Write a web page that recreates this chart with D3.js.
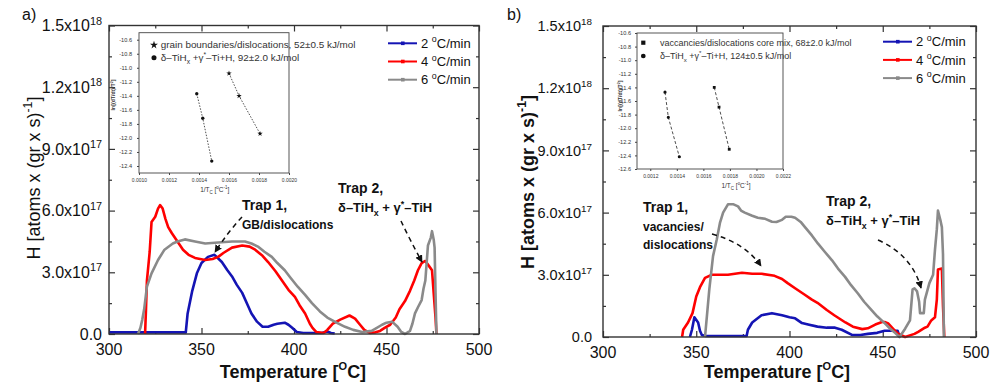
<!DOCTYPE html>
<html>
<head>
<meta charset="utf-8">
<script src="https://cdn.jsdelivr.net/npm/d3@7"></script>
<style>
body { margin: 0; background: #fff; }
svg { font-family: Arial, "Liberation Sans", sans-serif; }
</style>
</head>
<body>
<svg id="chart" width="995" height="389"></svg>
<script>
// ---------- data (temperature in degC, H in units of 1e17 atoms/(gr s)) ----------
var rateLabels = ["2", "4", "6"];
var rateColors = ["#1414b4", "#ff0000", "#8a8a8a"];

var xTickValues = [300, 350, 400, 450, 500];
var yTickValues = [0, 3e17, 6e17, 9e17, 1.2e18, 1.5e18];
var yTickMant = ["0.0", "3.0", "6.0", "9.0", "1.2", "1.5"];
var yTickExp = ["", "17", "17", "17", "18", "18"];

// panel a)
var blueA = [[300,0.08],[310,0.08],[320,0.08],[330,0.08],[341.5,0.08],[342.5,1.0],[345,2.1],[347.5,2.95],[350,3.45],
  [353.5,3.75],[357,3.85],[361,3.5],[364,3.1],[366.5,2.8],[369,2.4],[372,2.0],[375,1.4],[377,1.0],[380,0.6],[383,0.35],
  [386,0.35],[389,0.45],[391,0.5],[395,0.55],[397,0.45],[399,0.3],[401.5,0.1],[405,0.05],[410,0.05],[415,0.05],
  [418,0.12],[420,0.05],[422,0.02]];
var redA = [[319.5,0],[320,1.2],[320.5,2.6],[322,4.0],[323,5.45],[325,5.7],[326.5,6.1],[327.6,6.27],[329,6.1],[330.5,5.6],
  [332,5.2],[334,4.9],[337,4.5],[340,4.1],[343,3.85],[346.5,3.7],[352,3.6],[356,3.65],[359,3.75],[362,3.95],[366.5,4.2],
  [372,4.3],[376,4.25],[379,4.1],[383,3.8],[386,3.5],[390,3.05],[393.5,2.6],[397,2.15],[400.5,1.8],[403,1.4],[406,1.0],
  [408.6,0.5],[410,0.3],[412,0.1],[416,0.05],[418,0.2],[421,0.5],[425,0.7],[430,0.9],[433,0.75],[435.7,0.45],[438,0.2],
  [441,0.05],[444,0.08],[446.5,0.15],[449,0.3],[452,0.45],[455,0.8],[457,1.2],[460,1.6],[462.7,2.1],[465,2.6],[467,3.1],
  [469,3.45],[471,3.55],[473,3.3],[474.6,3.1],[475.5,2.0],[476.5,0.8],[477,0]];
var grayA = [[315.7,0],[317,0.3],[318,0.7],[319,1.2],[320.5,2.3],[323,2.95],[326.5,3.6],[330,4.1],[334.5,4.4],[337,4.5],
  [341,4.6],[346.5,4.5],[352,4.4],[359,4.45],[366.5,4.5],[373.5,4.5],[377,4.4],[380.5,4.25],[384,4.0],[388,3.75],
  [391,3.45],[395,3.1],[398,2.75],[402,2.3],[406,1.9],[409.7,1.5],[414,1.1],[418,0.8],[423,0.55],[427.6,0.35],[432,0.2],
  [436.8,0.1],[442,0.15],[447.6,0.45],[450,0.55],[453,0.6],[456,0.35],[458,0.1],[460,0],[462.7,0.15],[464,0.5],
  [465.4,1.0],[467,1.3],[469,1.65],[470,2.2],[471,2.6],[472.4,4.3],[474,4.7],[474.6,5.0],[475.5,4.6],[476,4.2],
  [476.5,2.0],[477,0]];

// panel b)
var blueB = [[346.6,0],[347.7,0.35],[349,0.95],[351,0.7],[352,0.3],[353,0.1],[355,0.05],[360,0.05],[365,0.05],[370,0.05],
  [377,0.05],[377.7,0.35],[380,0.7],[385,1.05],[390.6,1.15],[396,1.05],[400,0.95],[403,0.9],[406.7,0.67],[410,0.6],
  [415,0.5],[420,0.45],[424.4,0.45],[428,0.35],[433.5,0.1],[438,0.1],[442,0.15],[447,0.2],[451,0.3],[455,0.3],
  [458,0.3],[459,0]];
var redB = [[342.4,0],[343,0.35],[345.6,0.7],[348,1.15],[350,1.95],[352,2.4],[354.7,2.85],[358.4,3.0],[363,3.0],[367,3.0],
  [374.5,3.1],[380,3.05],[385,3.05],[392,2.95],[396,2.8],[399,2.6],[403,2.35],[408,2.05],[412,1.8],[415,1.65],[420,1.3],
  [424,1.05],[430,0.7],[434,0.5],[439,0.38],[442,0.42],[446,0.6],[449.6,0.72],[451,0.72],[453,0.65],[455,0.45],
  [456.6,0.3],[458,0.17],[462,0],[467,0.15],[469,0.25],[472.6,0.45],[474,0.5],[476,0.8],[478,0.95],[479,1.8],
  [479.6,3.25],[481.7,3.3],[482.3,1.5],[483,0]];
var grayB = [[354.7,0],[355.7,1.0],[357,2.3],[359,3.9],[361,4.7],[362.7,5.5],[364.4,6.0],[367,6.4],[370,6.4],[372.4,6.3],
  [374,6.1],[376,6.0],[380,5.85],[383,5.75],[387,5.7],[390.6,5.56],[393,5.55],[396,5.65],[398,5.8],[401,5.8],[403,5.75],
  [406,5.55],[408.3,5.3],[412,4.9],[415.3,4.5],[419,4.1],[422.8,3.7],[426,3.3],[429.8,2.9],[433,2.5],[436.7,2.1],
  [440,1.7],[444,1.3],[447,1.0],[451,0.67],[454,0.4],[456.6,0.2],[459,0],[462,0.4],[464.6,0.8],[466,2.3],[467,2.35],
  [468.4,2.2],[469.5,1.7],[470,1.15],[472,1.15],[472.6,1.8],[475,2.6],[477,3.0],[478,4.2],[479,5.2],[479.6,6.1],
  [481,5.6],[481.7,5.3],[482.3,4.0],[482.8,0]];

// insets: Kissinger plots, x = 1/Tc, y = ln[(dT/dt)/Tc^2]
var insetAX1 = [0.0016, 0.001667, 0.001807];
var insetAY1 = [-11.08, -11.40, -11.94];
var insetAX2 = [0.001385, 0.001425, 0.001485];
var insetAY2 = [-11.37, -11.72, -12.33];
var insetBX1 = [0.001682, 0.001718, 0.001795];
var insetBY1 = [-11.40, -11.69, -12.31];
var insetBX2 = [0.001311, 0.001336, 0.001419];
var insetBY2 = [-11.47, -11.84, -12.42];

var insetATicksX = [0.0010, 0.0012, 0.0014, 0.0016, 0.0018, 0.0020];
var insetATicksY = [-10.6, -10.8, -11.0, -11.2, -11.4, -11.6, -11.8, -12.0, -12.2, -12.4];
var insetBTicksX = [0.0012, 0.0014, 0.0016, 0.0018, 0.0020, 0.0022];
var insetBTicksY = [-10.6, -10.8, -11.0, -11.2, -11.4, -11.6, -11.8, -12.0, -12.2, -12.4, -12.6];

var svg = d3.select("#chart");
var frameColor = "#333";

// text with sub/superscript parts
function richText(g, x, y, parts, size, opts) {
  opts = opts || {};
  var t = g.append("text").attr("x", x).attr("y", y)
    .attr("font-size", size)
    .attr("fill", opts.fill || "#111")
    .attr("font-weight", opts.bold ? "bold" : "normal")
    .attr("text-anchor", opts.anchor || "start");
  if (opts.transform) t.attr("transform", opts.transform);
  var shift = 0;
  parts.forEach(function(p) {
    var s = p.sup ? -0.42 : (p.sub ? 0.3 : 0);
    var ts = t.append("tspan").text(p.t);
    var dy = (s - shift) * size;
    if (dy) ts.attr("dy", dy);
    if (p.sup || p.sub) ts.attr("font-size", size * 0.68);
    if (p.size) ts.attr("font-size", p.size);
    shift = s;
  });
  return t;
}

function drawPanel(cfg) {
  var g = svg.append("g");
  var x = d3.scaleLinear().domain([300, 500]).range([cfg.left, cfg.right]);
  var y = d3.scaleLinear().domain([0, 1.5e18]).range([cfg.bottom, cfg.top]);

  // inward ticks on all four sides (major + minor)
  var minorX = d3.range(325, 500, 50), minorY = d3.range(1.5e17, 1.5e18, 3e17);
  function tickAxis(axisFn, scale, vals, size, tr) {
    g.append("g").attr("transform", tr)
      .call(axisFn(scale).tickValues(vals).tickSize(size).tickFormat(""))
      .call(function(s) {
        s.select(".domain").remove();
        s.selectAll("line").attr("stroke", frameColor).attr("stroke-width", 1.2);
      });
  }
  tickAxis(d3.axisBottom, x, xTickValues, -6, "translate(0," + cfg.bottom + ")");
  tickAxis(d3.axisBottom, x, minorX, -3, "translate(0," + cfg.bottom + ")");
  tickAxis(d3.axisTop, x, xTickValues, -6, "translate(0," + cfg.top + ")");
  tickAxis(d3.axisTop, x, minorX, -3, "translate(0," + cfg.top + ")");
  tickAxis(d3.axisLeft, y, yTickValues, -6, "translate(" + cfg.left + ",0)");
  tickAxis(d3.axisLeft, y, minorY, -3, "translate(" + cfg.left + ",0)");
  tickAxis(d3.axisRight, y, yTickValues, -6, "translate(" + cfg.right + ",0)");
  tickAxis(d3.axisRight, y, minorY, -3, "translate(" + cfg.right + ",0)");

  // tick labels
  xTickValues.forEach(function(v) {
    g.append("text").attr("x", x(v)).attr("y", cfg.bottom + 21)
      .attr("text-anchor", "middle").attr("font-size", 16).attr("fill", "#111").text(v);
  });
  yTickValues.forEach(function(v, i) {
    var parts = [{t: yTickMant[i] + (yTickExp[i] ? "x10" : "")}];
    if (yTickExp[i]) parts.push({t: yTickExp[i], sup: true});
    richText(g, cfg.left - cfg.yLabOff, y(v) + cfg.yLabSize * 0.36, parts, cfg.yLabSize, {anchor: "end"});
  });

  // curves
  var line = d3.line().x(function(d) { return x(d[0]); }).y(function(d) { return y(d[1] * 1e17); });
  cfg.series.forEach(function(s, i) {
    g.append("path").datum(s).attr("d", line)
      .attr("fill", "none").attr("stroke", rateColors[i])
      .attr("stroke-width", 2.6).attr("stroke-linejoin", "round");
  });

  // frame
  g.append("rect").attr("x", cfg.left).attr("y", cfg.top)
    .attr("width", cfg.right - cfg.left).attr("height", cfg.bottom - cfg.top)
    .attr("fill", "none").attr("stroke", frameColor).attr("stroke-width", 1.4);

  // legend
  rateLabels.forEach(function(r, i) {
    var ly = cfg.legY + i * 18.2;
    g.append("line").attr("x1", cfg.legX).attr("x2", cfg.legX + 29).attr("y1", ly).attr("y2", ly)
      .attr("stroke", rateColors[i]).attr("stroke-width", 2);
    g.append("rect").attr("x", cfg.legX + 13).attr("y", ly - 1.8).attr("width", 3.6).attr("height", 3.6)
      .attr("fill", rateColors[i]);
    richText(g, cfg.legX + 33, ly + 4.6, [{t: r + " "}, {t: "o", sup: true}, {t: "C/min"}], 13);
  });

  // axis titles
  richText(g, cfg.xTitleX, 378, [{t: "Temperature ["}, {t: "O", sup: true, size: 11}, {t: "C]"}], 18,
    {bold: true, anchor: "middle"});
  richText(g, 0, 0, [{t: "H [atoms x (gr x s)"}, {t: "-1", sup: true}, {t: "]"}], 18,
    {bold: cfg.yTitleBold, anchor: "middle",
     transform: "translate(" + cfg.yTitleX + "," + cfg.yTitleY + ") rotate(-90)"});

  // panel letter
  g.append("text").attr("x", cfg.letterX).attr("y", 20).attr("font-size", 16).attr("fill", "#111").text(cfg.letter);

  return g;
}

function drawInset(cfg) {
  var g = svg.append("g");
  var x = d3.scaleLinear().domain(cfg.xDomain).range([cfg.left, cfg.right]);
  var y = d3.scaleLinear().domain(cfg.yDomain).range([cfg.bottom, cfg.top]);
  g.append("rect").attr("x", cfg.left).attr("y", cfg.top)
    .attr("width", cfg.right - cfg.left).attr("height", cfg.bottom - cfg.top)
    .attr("fill", "#fff").attr("stroke", "#444").attr("stroke-width", 0.9);

  g.append("g").attr("transform", "translate(0," + cfg.bottom + ")")
    .call(d3.axisBottom(x).tickValues(cfg.xTicks).tickSize(2).tickPadding(3)
      .tickFormat(function(d) { return d.toFixed(4); }))
    .call(function(s) {
      s.select(".domain").remove();
      s.selectAll("line").attr("stroke", "#444");
      s.selectAll("text").attr("font-size", 5).attr("fill", "#333").attr("font-family", "Arial");
    });
  g.append("g").attr("transform", "translate(" + cfg.left + ",0)")
    .call(d3.axisLeft(y).tickValues(cfg.yTicks).tickSize(2).tickPadding(cfg.yPad)
      .tickFormat(function(d) { return d.toFixed(1); }))
    .call(function(s) {
      s.select(".domain").remove();
      s.selectAll("line").attr("stroke", "#444");
      s.selectAll("text").attr("font-size", 5.6).attr("fill", "#333").attr("font-family", "Arial");
    });

  var line = d3.line().x(function(d) { return x(d[0]); }).y(function(d) { return y(d[1]); });
  cfg.sets.forEach(function(set) {
    var pts = set.xs.map(function(v, i) { return [v, set.ys[i]]; });
    g.append("path").datum(pts).attr("d", line).attr("fill", "none")
      .attr("stroke", "#222").attr("stroke-width", 0.8).attr("stroke-dasharray", cfg.dash);
    g.selectAll(null).data(pts).enter().append("path")
      .attr("transform", function(d) { return "translate(" + x(d[0]) + "," + y(d[1]) + ")"; })
      .attr("d", d3.symbol().type(set.symbol).size(set.symSize))
      .attr("fill", "#111");
  });

  // legend
  cfg.sets.forEach(function(set, i) {
    var ly = cfg.legY + i * cfg.legGap;
    g.append("path").attr("transform", "translate(" + cfg.legSymX + "," + ly + ")")
      .attr("d", d3.symbol().type(set.symbol).size(set.symSize * 2.2)).attr("fill", "#111");
    richText(g, cfg.legTextX, ly + 3.2, set.label, cfg.legSize, {fill: "#333"});
  });

  // axis titles
  richText(g, cfg.xTitleX, cfg.xTitleY, [{t: "1/T"}, {t: "C", sub: true}, {t: " ["}, {t: "o", sup: true}, {t: "C"}, {t: "-1", sup: true}, {t: "]"}],
    6.5, {anchor: "middle", fill: "#333"});
  richText(g, 0, 0, [{t: "ln[(dT/dt)/T"}, {t: "2", sup: true}, {t: "]"}], 5.2,
    {anchor: "middle", fill: "#333", bold: true,
     transform: "translate(" + cfg.yTitleX + "," + cfg.yTitleY + ") rotate(-90)"});
}

// arrow marker
svg.append("defs").append("marker")
  .attr("id", "arrow").attr("viewBox", "0 -5 10 10")
  .attr("refX", 9).attr("refY", 0)
  .attr("markerWidth", 5).attr("markerHeight", 5)
  .attr("orient", "auto")
  .append("path").attr("d", "M0,-5L10,0L0,5Z").attr("fill", "#111");

function arrow(x1, y1, cx, cy, x2, y2) {
  svg.append("path")
    .attr("d", "M" + x1 + "," + y1 + "Q" + cx + "," + cy + " " + x2 + "," + y2)
    .attr("fill", "none").attr("stroke", "#111").attr("stroke-width", 1.5)
    .attr("stroke-dasharray", "5,4").attr("marker-end", "url(#arrow)");
}

var phaseLabel = [{t: "\u03b4\u2013TiH"}, {t: "x", sub: true}, {t: " + \u03b3"}, {t: "*", sup: true}, {t: "\u2013TiH"}];

// ---------- panel a ----------
var gA = drawPanel({
  left: 109, right: 479, top: 25.5, bottom: 334,
  series: [blueA, redA, grayA],
  yLabOff: 7, yLabSize: 16,
  legX: 388, legY: 43.3,
  xTitleX: 293, yTitleX: 40, yTitleY: 178, yTitleBold: false,
  letter: "a)", letterX: 22
});
drawInset({
  left: 139, right: 289, top: 32.7, bottom: 173,
  xDomain: [0.0010, 0.0020], yDomain: [-12.5, -10.5],
  xTicks: insetATicksX, yTicks: insetATicksY, yPad: 5,
  dash: "1.5,1.5",
  sets: [
    {xs: insetAX1, ys: insetAY1, symbol: d3.symbolStar, symSize: 9,
     label: [{t: "grain boundaries/dislocations, 52\u00b10.5 kJ/mol"}]},
    {xs: insetAX2, ys: insetAY2, symbol: d3.symbolCircle, symSize: 9,
     label: [{t: "\u03b4\u2013TiH"}, {t: "x", sub: true}, {t: " +\u03b3"}, {t: "*", sup: true}, {t: "\u2013Ti+H, 92\u00b12.0 kJ/mol"}]}
  ],
  legSymX: 154, legY: 45, legGap: 12.7, legTextX: 160.7, legSize: 9.9,
  xTitleX: 214.7, xTitleY: 192, yTitleX: 115, yTitleY: 95
});
richText(svg, 242, 210, [{t: "Trap 1,"}], 14, {bold: true});
richText(svg, 242, 229, [{t: "GB/dislocations"}], 12, {bold: true});
richText(svg, 338, 193, [{t: "Trap 2,"}], 14, {bold: true});
richText(svg, 338, 212, phaseLabel, 13, {bold: true});
arrow(242, 217, 228, 232, 215, 252);
arrow(401, 221, 410, 240, 422, 262);

// ---------- panel b ----------
var gB = drawPanel({
  left: 603, right: 976, top: 26, bottom: 337,
  series: [blueB, redB, grayB],
  yLabOff: 11, yLabSize: 14.5,
  legX: 883, legY: 41.7,
  xTitleX: 777, yTitleX: 534, yTitleY: 182, yTitleBold: true,
  letter: "b)", letterX: 507
});
drawInset({
  left: 637, right: 783, top: 33, bottom: 169,
  xDomain: [0.0011, 0.0022], yDomain: [-12.6, -10.6],
  xTicks: insetBTicksX, yTicks: insetBTicksY, yPad: 4,
  dash: "3,2",
  sets: [
    {xs: insetBX1, ys: insetBY1, symbol: d3.symbolSquare, symSize: 8,
     label: [{t: "vaccancies/dislocations core mix, 68\u00b12.0 kJ/mol"}]},
    {xs: insetBX2, ys: insetBY2, symbol: d3.symbolCircle, symSize: 8,
     label: [{t: "\u03b4\u2013TiH"}, {t: "x", sub: true}, {t: " +\u03b3"}, {t: "*", sup: true}, {t: "\u2013Ti+H, 124\u00b10.5 kJ/mol"}]}
  ],
  legSymX: 643.3, legY: 42.7, legGap: 13.3, legTextX: 660, legSize: 9,
  xTitleX: 736, xTitleY: 188, yTitleX: 622, yTitleY: 96
});
richText(svg, 643, 212, [{t: "Trap 1,"}], 14, {bold: true});
richText(svg, 643, 231, [{t: "vacancies/"}], 12, {bold: true});
richText(svg, 643, 249, [{t: "dislocations"}], 12, {bold: true});
richText(svg, 826, 206, [{t: "Trap 2,"}], 14, {bold: true});
richText(svg, 826, 225, phaseLabel, 13, {bold: true});
arrow(712, 234, 745, 243, 761, 266);
arrow(878, 240, 912, 255, 921, 288);
</script>
</body>
</html>
